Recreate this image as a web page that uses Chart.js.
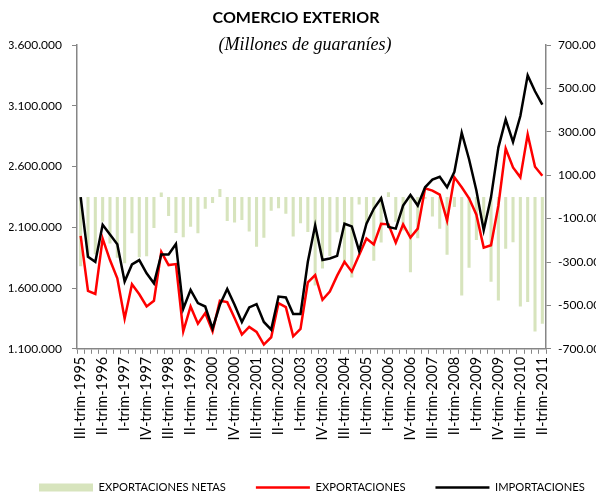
<!DOCTYPE html>
<html>
<head>
<meta charset="utf-8">
<script src="https://cdn.jsdelivr.net/npm/chart.js@4/dist/chart.umd.min.js"></script>
<style>
html,body{margin:0;padding:0;background:#fff;}
#wrap{width:596px;height:497px;}
</style>
</head>
<body>
<div id="wrap"><canvas id="c" width="596" height="497"></canvas></div>
<script>
const categories = [
'III-trim-1995','IV-trim-1995',
'I-trim-1996','II-trim-1996','III-trim-1996','IV-trim-1996',
'I-trim-1997','II-trim-1997','III-trim-1997','IV-trim-1997',
'I-trim-1998','II-trim-1998','III-trim-1998','IV-trim-1998',
'I-trim-1999','II-trim-1999','III-trim-1999','IV-trim-1999',
'I-trim-2000','II-trim-2000','III-trim-2000','IV-trim-2000',
'I-trim-2001','II-trim-2001','III-trim-2001','IV-trim-2001',
'I-trim-2002','II-trim-2002','III-trim-2002','IV-trim-2002',
'I-trim-2003','II-trim-2003','III-trim-2003','IV-trim-2003',
'I-trim-2004','II-trim-2004','III-trim-2004','IV-trim-2004',
'I-trim-2005','II-trim-2005','III-trim-2005','IV-trim-2005',
'I-trim-2006','II-trim-2006','III-trim-2006','IV-trim-2006',
'I-trim-2007','II-trim-2007','III-trim-2007','IV-trim-2007',
'I-trim-2008','II-trim-2008','III-trim-2008','IV-trim-2008',
'I-trim-2009','II-trim-2009','III-trim-2009','IV-trim-2009',
'I-trim-2010','II-trim-2010','III-trim-2010','IV-trim-2010',
'I-trim-2011','II-trim-2011'
];

// Millones de guaraníes
const exportaciones = [
2029000,1577000,1552000,2007000,1830000,1680000,1348000,1631000,1549000,1448000,
1495000,1898000,1789000,1797000,1244000,1448000,1307000,1394000,1244000,1495000,
1484000,1353000,1217000,1280000,1239000,1135000,1195000,1476000,1443000,1203000,
1263000,1647000,1707000,1503000,1571000,1702000,1816000,1735000,1871000,2007000,
1958000,2129000,2124000,1974000,2124000,2015000,2089000,2421000,2402000,2369000,
2156000,2511000,2429000,2339000,2203000,1933000,1952000,2279000,2748000,2593000,
2511000,2865000,2598000,2524000
];

const importaciones = [
2348000,1857000,1816000,2121000,2040000,1960000,1653000,1794000,1830000,1721000,
1639000,1876000,1876000,1963000,1429000,1585000,1476000,1448000,1266000,1462000,
1593000,1462000,1321000,1440000,1468000,1321000,1258000,1530000,1522000,1386000,
1386000,1816000,2116000,1830000,1843000,1865000,2129000,2107000,1906000,2129000,
2252000,2339000,2102000,2089000,2279000,2366000,2279000,2429000,2492000,2516000,
2429000,2557000,2878000,2660000,2402000,2075000,2348000,2756000,2987000,2802000,
3015000,3350000,3219000,3110000
];

const exportacionesNetas = [
-320000,-280000,-264000,-114000,-215000,-280000,-306000,-168000,-278000,-274000,
-143000,20000,-88000,-166000,-186000,-137000,-168000,-55000,-28000,36000,
-111000,-118000,-106000,-160000,-230000,-188000,-64000,-52000,-78000,-182000,
-122000,-162000,-408000,-330000,-272000,-163000,-313000,-372000,-35000,-122000,
-294000,-210000,22000,-115000,-155000,-347000,-190000,-8000,-90000,-147000,
-267000,-46000,-454000,-326000,-199000,-142000,-391000,-477000,-239000,-209000,
-505000,-484000,-620000,-585000
];

const leftTicks = [1100000,1600000,2100000,2600000,3100000,3600000];
const rightTicks = [-700000,-500000,-300000,-100000,100000,300000,500000,700000];

const chartTitle = 'COMERCIO EXTERIOR';
const chartSubtitle = '(Millones de guaraníes)';

function fmt(v){
  const s = Math.abs(Math.round(v)).toString().replace(/\B(?=(\d{3})+(?!\d))/g,'.');
  return (v<0?'-':'') + s;
}

const AXIS = '#868686';
const FONT = 'Lato';

const titlePlugin = {
  id: 'titles',
  afterDraw(chart) {
    const ctx = chart.ctx;
    ctx.save();
    ctx.fillStyle = '#000';
    ctx.textAlign = 'center';
    ctx.textBaseline = 'middle';
    ctx.font = 'bold 16px ' + FONT;
    ctx.fillText(chartTitle, 296, 18);
    ctx.font = 'italic 18px "Liberation Serif"';
    ctx.fillText(chartSubtitle, 305, 45);
    ctx.restore();
  }
};

new Chart(document.getElementById('c'), {
  data: {
    labels: categories,
    datasets: [
      {
        type: 'bar',
        label: 'EXPORTACIONES NETAS',
        data: exportacionesNetas,
        yAxisID: 'y1',
        backgroundColor: '#d7e4bd',
        borderWidth: 0,
        barPercentage: 0.42,
        categoryPercentage: 1.0,
        order: 3,
        pointStyle: 'rect'
      },
      {
        type: 'line',
        label: 'EXPORTACIONES',
        data: exportaciones,
        yAxisID: 'y',
        borderColor: '#ff0000',
        backgroundColor: '#ff0000',
        borderWidth: 2.5,
        pointRadius: 0,
        tension: 0,
        order: 2,
        pointStyle: 'line'
      },
      {
        type: 'line',
        label: 'IMPORTACIONES',
        data: importaciones,
        yAxisID: 'y',
        borderColor: '#000000',
        backgroundColor: '#000000',
        borderWidth: 2.5,
        pointRadius: 0,
        tension: 0,
        order: 1,
        pointStyle: 'line'
      }
    ]
  },
  plugins: [titlePlugin],
  options: {
    responsive: false,
    animation: false,
    devicePixelRatio: 1,
    layout: { padding: { left: 9, right: -40, top: 45, bottom: -6 } },
    plugins: {
      tooltip: { enabled: false },
      title: { display: false },
      subtitle: { display: false },
      legend: {
        position: 'bottom',
        align: 'start',
        labels: {
          usePointStyle: true,
          pointStyleWidth: 54,
          boxHeight: 8,
          padding: 30,
          color: '#000',
          font: { family: FONT, size: 11.2 },
          sort: (a, b) => a.datasetIndex - b.datasetIndex
        }
      }
    },
    scales: {
      x: {
        type: 'category',
        offset: true,
        grid: {
          offset: true,
          drawOnChartArea: false,
          drawTicks: true,
          tickLength: 5,
          color: AXIS
        },
        border: { color: AXIS, width: 1.5 },
        ticks: {
          autoSkip: false,
          minRotation: 90,
          maxRotation: 90,
          padding: 3,
          color: '#000',
          font: { family: FONT, size: 14.5 },
          callback: function(value, index) { return index % 3 === 0 ? this.getLabelForValue(value) : ''; }
        },
        afterFit: (s) => { s.height = 103; }
      },
      y: {
        position: 'left',
        min: 1100000,
        max: 3600000,
        afterBuildTicks: (s) => { s.ticks = leftTicks.map(v => ({ value: v })); },
        grid: { drawOnChartArea: false, drawTicks: true, tickLength: 5, color: AXIS },
        border: { color: AXIS, width: 1.5 },
        ticks: {
          padding: 10,
          color: '#000',
          font: { family: FONT, size: 12 },
          callback: (v) => fmt(v)
        },
        afterFit: (s) => { s.width = 68; }
      },
      y1: {
        position: 'right',
        min: -700000,
        max: 700000,
        afterBuildTicks: (s) => { s.ticks = rightTicks.map(v => ({ value: v })); },
        grid: { drawOnChartArea: false, drawTicks: true, tickLength: 5, color: AXIS },
        border: { color: AXIS, width: 1.5 },
        ticks: {
          padding: 7,
          color: '#000',
          font: { family: FONT, size: 12 },
          callback: (v) => fmt(v)
        },
        afterFit: (s) => { s.width = 90; }
      }
    }
  }
});
</script>
</body>
</html>
